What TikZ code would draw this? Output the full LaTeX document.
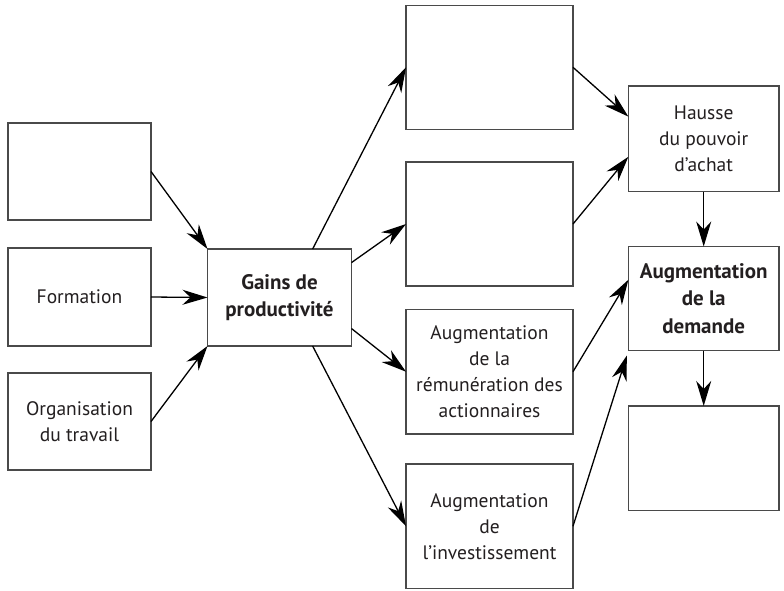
\documentclass[tikz,border=0pt]{standalone}
\usepackage{fontspec}
\setmainfont{PT Sans}
\usetikzlibrary{arrows.meta,calc}

\definecolor{boxline}{HTML}{4A4A4A}
\definecolor{ink}{HTML}{231F20}

\tikzset{
  box/.style={draw=boxline, line width=1.3pt, fill=white, rectangle,
    outer sep=0pt, inner sep=2pt, align=center, text=ink,
    font=\fontsize{19.5}{26}\selectfont},
  boldbox/.style={box, font=\fontsize{21}{27.5}\selectfont\bfseries},
  link/.style={draw=black, line width=1.3pt,
    -{Stealth[length=25pt, width=15pt, inset=8pt]}}
}

\begin{document}
\begin{tikzpicture}[x=1pt, y=-1pt]
  \useasboundingbox (0,0) rectangle (784,590);

  % left column: causes
  \node[box, minimum width=143pt, minimum height=97pt] (l1) at (79.5,171.5) {};
  \node[box, minimum width=143pt, minimum height=98pt] (l2) at (79.5,297) {Formation};
  \node[box, minimum width=143pt, minimum height=97pt] (l3) at (79.5,421.5) {Organisation\\du travail};

  % centre
  \node[boldbox, minimum width=144pt, minimum height=97pt] (gains) at (279.5,297.5) {Gains de\\productivité};

  % middle column: uses of the gains
  \node[box, minimum width=167pt, minimum height=124pt] (m1) at (489.5,67.3) {};
  \node[box, minimum width=167pt, minimum height=124pt] (m2) at (489.5,224) {};
  \node[box, minimum width=167pt, minimum height=124.5pt] (m3) at (489.5,371.7) {Augmentation\\de la\\rémunération des\\actionnaires};
  \node[box, minimum width=167pt, minimum height=124.3pt] (m4) at (489.5,526.2) {Augmentation\\de\\l’investissement};

  % right column: effects
  \node[box, minimum width=150.7pt, minimum height=105.7pt] (r1) at (703.7,138.8) {Hausse\\du pouvoir\\d’achat};
  \node[boldbox, minimum width=150.7pt, minimum height=104pt] (r2) at (703.7,298.5) {Augmentation\\de la\\demande};
  \node[box, minimum width=150.7pt, minimum height=104.7pt] (r3) at (703.7,458.3) {};

  % causes -> gains
  \draw[link] (l1.east) -- (gains.north west);
  \draw[link] (l2.east) -- (gains.west);
  \draw[link] (l3.east) -- (gains.south west);

  % gains -> uses
  \draw[link] ($(gains.north west)!0.73!(gains.north east)$) -- (m1.west);
  \draw[link] ($(gains.north east)!0.14!(gains.south east)$) -- (m2.west);
  \draw[link] ($(gains.north east)!0.82!(gains.south east)$) -- (m3.west);
  \draw[link] ($(gains.south west)!0.73!(gains.south east)$) -- (m4.west);

  % uses -> effects
  \draw[link] (m1.east) -- ($(r1.north west)!0.29!(r1.south west)$);
  \draw[link] (m2.east) -- ($(r1.north west)!0.67!(r1.south west)$);
  \draw[link] (m3.east) -- ($(r2.north west)!0.32!(r2.south west)$);
  \draw[link] (m4.east) -- ($(r2.south west)+(-1.5,5)$);

  % chain on the right
  \draw[link] (r1.south) -- (r2.north);
  \draw[link] (r2.south) -- (r3.north);
\end{tikzpicture}
\end{document}
